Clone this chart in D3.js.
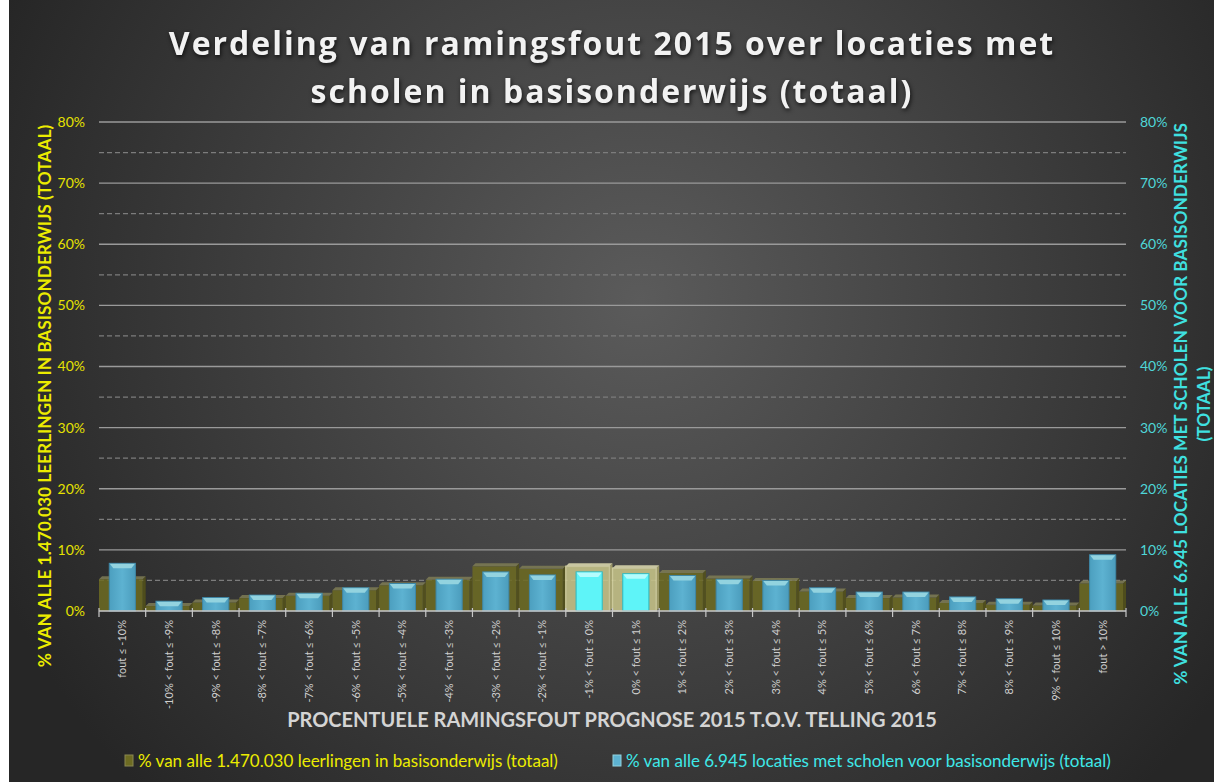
<!DOCTYPE html>
<html>
<head>
<meta charset="utf-8">
<script src="https://cdn.jsdelivr.net/npm/d3@7/dist/d3.min.js"></script>
<style>
  body { margin: 0; background: #fff; }
  svg { display: block; }
</style>
</head>
<body>
<div id="chart"></div>
<script>
// categories on the x axis
var categories = ["fout ≤ -10%", "-10% < fout ≤ -9%", "-9% < fout ≤ -8%", "-8% < fout ≤ -7%",
    "-7% < fout ≤ -6%", "-6% < fout ≤ -5%", "-5% < fout ≤ -4%", "-4% < fout ≤ -3%",
    "-3% < fout ≤ -2%", "-2% < fout ≤ -1%", "-1% < fout ≤ 0%", "0% < fout ≤ 1%",
    "1% < fout ≤ 2%", "2% < fout ≤ 3%", "3% < fout ≤ 4%", "4% < fout ≤ 5%",
    "5% < fout ≤ 6%", "6% < fout ≤ 7%", "7% < fout ≤ 8%", "8% < fout ≤ 9%",
    "9% < fout ≤ 10%", "fout > 10%"];

// % van alle leerlingen (left axis)
var leerlingen = [5.7, 1.3, 1.9, 2.6, 3.0, 3.9, 4.7, 5.6, 7.8, 7.4, 7.8,
    7.5, 6.7, 5.8, 5.4, 3.7, 2.6, 2.7, 1.8, 1.5, 1.4, 5.0];

// % van alle locaties (right axis)
var locaties = [7.8, 1.6, 2.2, 2.6, 2.9, 3.8, 4.5, 5.2, 6.4, 5.9, 6.4,
    6.1, 5.8, 5.2, 5.0, 3.8, 3.1, 3.1, 2.3, 2.0, 1.8, 9.2];

// the two categories drawn highlighted
var highlighted = ["-1% < fout ≤ 0%", "0% < fout ≤ 1%"];

var yTicks = [0, 10, 20, 30, 40, 50, 60, 70, 80];
var yMinorTicks = [5, 15, 25, 35, 45, 55, 65, 75];

var W = 1214, H = 782;
var margin = { top: 122, right: 88, bottom: 171, left: 99 },
    width = W - margin.left - margin.right,
    height = H - margin.top - margin.bottom;

var svgRoot = d3.select("#chart").append("svg")
    .attr("width", W)
    .attr("height", H);

var defs = svgRoot.append("defs");
var bg = defs.append("radialGradient")
    .attr("id", "bg")
    .attr("gradientUnits", "userSpaceOnUse")
    .attr("cx", 640).attr("cy", 300).attr("r", 700);
bg.append("stop").attr("offset", "0%").attr("stop-color", "#5b5b5b");
bg.append("stop").attr("offset", "100%").attr("stop-color", "#262626");

var blueGrad = defs.append("linearGradient")
    .attr("id", "blueGrad").attr("x1", 0).attr("x2", 1).attr("y1", 0).attr("y2", 0);
blueGrad.append("stop").attr("offset", "0%").attr("stop-color", "#4c9fbf");
blueGrad.append("stop").attr("offset", "50%").attr("stop-color", "#5db2d1");
blueGrad.append("stop").attr("offset", "100%").attr("stop-color", "#4b9cbc");

svgRoot.append("rect")
    .attr("x", 9).attr("y", 0)
    .attr("width", W - 9).attr("height", H)
    .attr("fill", "url(#bg)");

var svg = svgRoot.append("g")
    .attr("transform", "translate(" + margin.left + "," + margin.top + ")");

var x = d3.scaleBand()
    .domain(categories)
    .range([0, width])
    .padding(0);

var xBlue = d3.scaleBand()
    .domain(categories)
    .range([0, width])
    .paddingInner(0.44)
    .paddingOuter(0.22);

var y = d3.scaleLinear().domain([0, 80]).range([height, 0]);
var y2 = d3.scaleLinear().domain([0, 80]).range([height, 0]);

// gridlines
svg.selectAll(".grid")
    .data(yTicks.filter(function (d) { return d > 0; }))
    .enter().append("line")
    .attr("x1", 0).attr("x2", width)
    .attr("y1", function (d) { return y(d); })
    .attr("y2", function (d) { return y(d); })
    .attr("stroke", "#9a9a9a")
    .attr("stroke-width", 1.3);

svg.selectAll(".minor")
    .data(yMinorTicks)
    .enter().append("line")
    .attr("x1", 0).attr("x2", width)
    .attr("y1", function (d) { return y(d); })
    .attr("y2", function (d) { return y(d); })
    .attr("stroke", "#7c7c7c")
    .attr("stroke-width", 1.3)
    .attr("stroke-dasharray", "5,3");

// olive 3D bars
var depth = 3;
var olive = svg.selectAll(".olive")
    .data(categories)
    .enter().append("g")
    .attr("class", "olive")
    .attr("opacity", 0.86);

function isHi(c) { return highlighted.indexOf(c) >= 0; }

olive.append("polygon")
    .attr("points", function (c, i) {
        var x0 = x(c), w = x.bandwidth(), yt = y(leerlingen[i]);
        return [[x0 + w - depth, yt + depth], [x0 + w, yt], [x0 + w, height - depth], [x0 + w - depth, height]].join(" ");
    })
    .attr("fill", function (c) { return isHi(c) ? "#a9a56a" : "#545219"; });

olive.append("rect")
    .attr("x", function (c) { return x(c); })
    .attr("y", function (c, i) { return y(leerlingen[i]) + depth; })
    .attr("width", x.bandwidth() - depth)
    .attr("height", function (c, i) { return height - y(leerlingen[i]) - depth; })
    .attr("fill", function (c) { return isHi(c) ? "#c9c68a" : "#6d6b22"; })
    .attr("stroke", function (c) { return isHi(c) ? "#dcd9a6" : "none"; })
    .attr("stroke-width", 1.5);

olive.append("polygon")
    .attr("points", function (c, i) {
        var x0 = x(c), w = x.bandwidth(), yt = y(leerlingen[i]);
        return [[x0, yt + depth], [x0 + depth, yt], [x0 + w, yt], [x0 + w - depth, yt + depth]].join(" ");
    })
    .attr("fill", function (c) { return isHi(c) ? "#dedbb0" : "#7e7c55"; });

// blue bevelled bars
var bevel = 4;
var blue = svg.selectAll(".blue")
    .data(categories)
    .enter().append("g")
    .attr("class", "blue");

blue.append("rect")
    .attr("x", function (c) { return xBlue(c); })
    .attr("y", function (c, i) { return y2(locaties[i]); })
    .attr("width", xBlue.bandwidth())
    .attr("height", function (c, i) { return height - y2(locaties[i]); })
    .attr("fill", function (c) { return isHi(c) ? "#5ef4f8" : "url(#blueGrad)"; })
    .attr("stroke", function (c) { return isHi(c) ? "#2bb9c2" : "#3f87a6"; })
    .attr("stroke-width", 1);

blue.append("polygon")
    .attr("points", function (c, i) {
        var x0 = xBlue(c), w = xBlue.bandwidth(), yt = y2(locaties[i]);
        return [[x0 + 0.5, yt + 0.5], [x0 + w - 0.5, yt + 0.5], [x0 + w - bevel, yt + bevel + 1], [x0 + bevel, yt + bevel + 1]].join(" ");
    })
    .attr("fill", function (c) { return isHi(c) ? "#b4fcfd" : "#93d3df"; });

// x baseline and ticks
svg.append("line")
    .attr("x1", 0).attr("x2", width)
    .attr("y1", height).attr("y2", height)
    .attr("stroke", "#c8c8c8").attr("stroke-width", 1.5);

svg.selectAll(".xtick")
    .data(categories.concat(["end"]))
    .enter().append("line")
    .attr("x1", function (c, i) { return i < categories.length ? x(c) : width; })
    .attr("x2", function (c, i) { return i < categories.length ? x(c) : width; })
    .attr("y1", height - 3).attr("y2", height + 6)
    .attr("stroke", "#c8c8c8").attr("stroke-width", 1.2);

// x labels
svg.selectAll(".xlabel")
    .data(categories)
    .enter().append("text")
    .attr("transform", function (c) {
        return "translate(" + (x(c) + x.bandwidth() / 2) + "," + (height + 9) + ") rotate(-90)";
    })
    .attr("text-anchor", "end")
    .attr("dy", "0.35em")
    .attr("font-family", "Lato, 'Open Sans', sans-serif")
    .attr("font-size", 11)
    .attr("fill", "#cfcfcf")
    .text(function (c) { return c; });

// left y labels
svg.selectAll(".ylabel")
    .data(yTicks)
    .enter().append("text")
    .attr("x", -14)
    .attr("y", function (d) { return y(d); })
    .attr("dy", "0.35em")
    .attr("text-anchor", "end")
    .attr("font-family", "Lato, 'Open Sans', sans-serif")
    .attr("font-size", 14)
    .attr("fill", "#e6e200")
    .text(function (d) { return d + "%"; });

// right y labels
svg.selectAll(".y2label")
    .data(yTicks)
    .enter().append("text")
    .attr("x", width + 14)
    .attr("y", function (d) { return y2(d); })
    .attr("dy", "0.35em")
    .attr("text-anchor", "start")
    .attr("font-family", "Lato, 'Open Sans', sans-serif")
    .attr("font-size", 14)
    .attr("fill", "#4fd6d8")
    .text(function (d) { return d + "%"; });

// title
var title = svgRoot.append("text")
    .attr("text-anchor", "middle")
    .attr("font-family", "'Open Sans', sans-serif")
    .attr("font-weight", "bold")
    .attr("font-size", 32)
    .attr("fill", "#f2f2f2")
    .attr("letter-spacing", 2)
    .style("filter", "drop-shadow(1px 2px 2px rgba(0,0,0,0.7))");
title.append("tspan").attr("x", 612).attr("y", 55).text("Verdeling van ramingsfout 2015 over locaties met");
title.append("tspan").attr("x", 612).attr("y", 103).text("scholen in basisonderwijs (totaal)");

// axis titles
svgRoot.append("text")
    .attr("x", 612).attr("y", 727)
    .attr("text-anchor", "middle")
    .attr("font-family", "Lato, 'Open Sans', sans-serif")
    .attr("font-weight", "bold")
    .attr("font-size", 20)
    .attr("fill", "#d4d4d4")
    .text("PROCENTUELE RAMINGSFOUT PROGNOSE 2015 T.O.V. TELLING 2015");

svgRoot.append("text")
    .attr("transform", "translate(51,396) rotate(-90)")
    .attr("text-anchor", "middle")
    .attr("font-family", "Lato, 'Open Sans', sans-serif")
    .attr("font-weight", "bold")
    .attr("font-size", 17.3)
    .attr("fill", "#ecec00")
    .text("% VAN ALLE 1.470.030 LEERLINGEN IN BASISONDERWIJS (TOTAAL)");

var rTitle = svgRoot.append("text")
    .attr("transform", "translate(1187,404) rotate(-90)")
    .attr("text-anchor", "middle")
    .attr("font-family", "Lato, 'Open Sans', sans-serif")
    .attr("font-weight", "bold")
    .attr("font-size", 17.3)
    .attr("fill", "#3fe0e0");
rTitle.append("tspan").attr("x", 0).attr("y", 0).text("% VAN ALLE 6.945 LOCATIES MET SCHOLEN VOOR BASISONDERWIJS");
rTitle.append("tspan").attr("x", 0).attr("y", 23).text("(TOTAAL)");

// legend
var legend = svgRoot.append("g").attr("font-family", "Lato, 'Open Sans', sans-serif").attr("font-size", 17);
legend.append("rect").attr("x", 125).attr("y", 755).attr("width", 8).attr("height", 11).attr("fill", "#6d6b22").attr("stroke", "#8a8850");
legend.append("text").attr("x", 138).attr("y", 767).attr("fill", "#ecec00")
    .text("% van alle 1.470.030 leerlingen in basisonderwijs (totaal)");
legend.append("rect").attr("x", 613).attr("y", 755).attr("width", 8).attr("height", 11).attr("fill", "#5db2d1").attr("stroke", "#93d3df");
legend.append("text").attr("x", 626).attr("y", 767).attr("fill", "#3fe8e8")
    .text("% van alle 6.945 locaties met scholen voor basisonderwijs (totaal)");
</script>
</body>
</html>
